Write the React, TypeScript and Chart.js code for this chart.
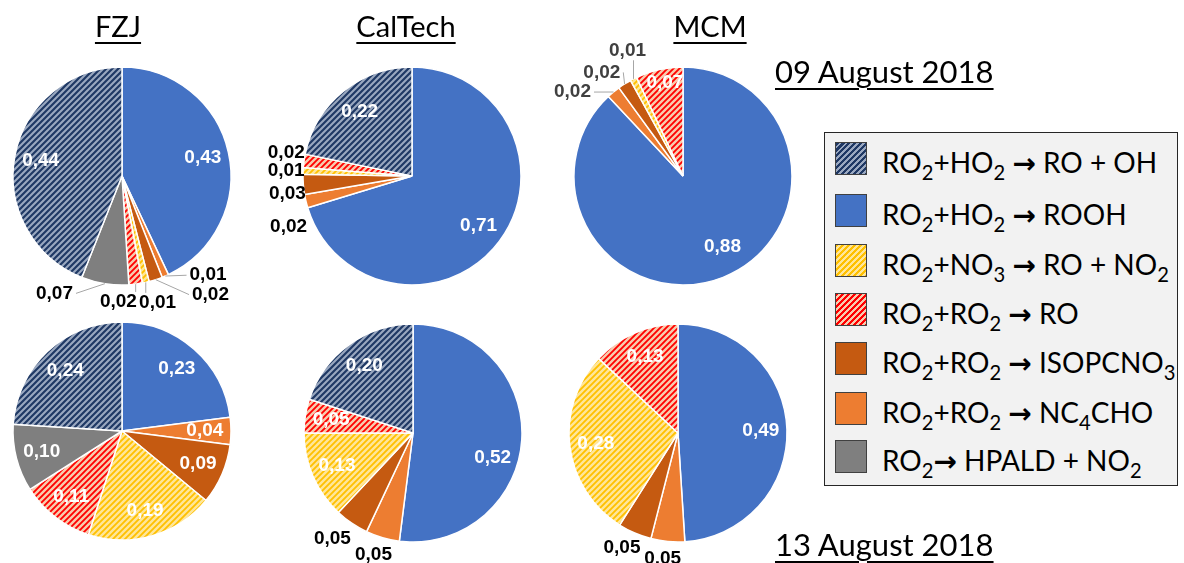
import React, { useEffect, useRef } from "react";
import { Chart, registerables } from "chart.js";

Chart.register(...registerables);

// ---- categories (pie order, clockwise from 12 o'clock) ----
const categories = [
  "RO_2+HO_2 → ROOH",
  "RO_2+RO_2 → NC_4CHO",
  "RO_2+RO_2 → ISOPCNO_3",
  "RO_2+NO_3 → RO + NO_2",
  "RO_2+RO_2 → RO",
  "RO_2→ HPALD + NO_2",
  "RO_2+HO_2 → RO + OH",
];
// legend order (indices into categories)
const legendOrder = [6, 0, 3, 4, 2, 1, 5];

// ---- series values ----
const fzjAug09 = [0.43, 0.01, 0.02, 0.01, 0.02, 0.07, 0.44];
const caltechAug09 = [0.71, 0.02, 0.03, 0.01, 0.02, 0, 0.22];
const mcmAug09 = [0.88, 0.02, 0.02, 0.01, 0.07, 0, 0];
const fzjAug13 = [0.23, 0.04, 0.09, 0.19, 0.11, 0.1, 0.24];
const caltechAug13 = [0.52, 0.05, 0.05, 0.13, 0.05, 0, 0.2];
const mcmAug13 = [0.49, 0.05, 0.05, 0.28, 0.13, 0, 0];

const modelTitles = ["FZJ", "CalTech", "MCM"];
const dateLabels = ["09 August 2018", "13 August 2018"];

type LabelSpec = { out?: boolean; dx?: number; dy?: number };
type PieSpec = {
  data: number[];
  cx: number;
  cy: number;
  labels: Record<number, LabelSpec>;
  leaders: boolean;
  outColor: string;
};

const RADIUS = 109;

const pies: PieSpec[] = [
  {
    data: fzjAug09, cx: 122, cy: 176, leaders: true, outColor: "#000",
    labels: {
      1: { out: true, dx: 34, dy: -21 },
      2: { out: true, dx: 48, dy: -6 },
      3: { out: true, dx: 7, dy: -1 },
      4: { out: true, dx: -20, dy: -4 },
      5: { out: true, dx: -47, dy: -12 },
    },
  },
  {
    data: caltechAug09, cx: 412, cy: 176, leaders: false, outColor: "#000",
    labels: {
      1: { out: true, dx: 4, dy: 20 },
      2: { out: true, dx: 6, dy: 8 },
      3: { out: true, dx: 5, dy: 1 },
      4: { out: true, dx: 4, dy: -5 },
    },
  },
  {
    data: mcmAug09, cx: 683, cy: 176, leaders: true, outColor: "#404040",
    labels: {
      0: { dx: 9, dy: -6 },
      1: { out: true, dx: -27, dy: 17 },
      2: { out: true, dx: -11, dy: 7 },
      3: { out: true, dx: 4, dy: -9 },
      4: { dx: 0, dy: -12 },
    },
  },
  { data: fzjAug13, cx: 122, cy: 431, leaders: false, outColor: "#000", labels: {} },
  {
    data: caltechAug13, cx: 413, cy: 433, leaders: false, outColor: "#000",
    labels: {
      0: { dx: -3, dy: 20 },
      1: { out: true, dx: -3, dy: -4 },
      2: { out: true, dx: -7, dy: -3 },
    },
  },
  {
    data: mcmAug13, cx: 678, cy: 433, leaders: false, outColor: "#000",
    labels: {
      1: { out: true, dx: -3, dy: -5 },
      2: { out: true, dx: -4, dy: -5 },
    },
  },
];

function makePattern(base: string, stripe: string, size = 6, lw = 2.4) {
  const c = document.createElement("canvas");
  c.width = size;
  c.height = size;
  const g = c.getContext("2d")!;
  g.fillStyle = base;
  g.fillRect(0, 0, size, size);
  g.strokeStyle = stripe;
  g.lineWidth = lw;
  g.beginPath();
  g.moveTo(-1, size + 1);
  g.lineTo(size + 1, -1);
  g.moveTo(-1, 1);
  g.lineTo(1, -1);
  g.moveTo(size - 1, size + 1);
  g.lineTo(size + 1, size - 1);
  g.stroke();
  return g.createPattern(c, "repeat")!;
}

function makeLabelPlugin(spec: PieSpec) {
  return {
    id: "sliceLabels",
    afterDatasetsDraw(chart: any) {
      const ctx: CanvasRenderingContext2D = chart.ctx;
      const meta = chart.getDatasetMeta(0);
      const values: number[] = chart.data.datasets[0].data;
      ctx.save();
      ctx.font = 'bold 19px "Liberation Sans", Arial, sans-serif';
      ctx.textAlign = "center";
      ctx.textBaseline = "middle";
      meta.data.forEach((arc: any, i: number) => {
        const v = values[i];
        if (!v) return;
        const p = arc.getProps(["x", "y", "startAngle", "endAngle", "outerRadius"], true);
        const mid = (p.startAngle + p.endAngle) / 2;
        const ls = spec.labels[i] || {};
        const text = v.toFixed(2).replace(".", ",");
        if (ls.out) {
          const d = p.outerRadius + 22;
          const lx = p.x + Math.cos(mid) * d + (ls.dx || 0);
          const ly = p.y + Math.sin(mid) * d + (ls.dy || 0);
          if (spec.leaders) {
            const px = p.x + Math.cos(mid) * p.outerRadius;
            const py = p.y + Math.sin(mid) * p.outerRadius;
            const w = ctx.measureText(text).width;
            let ex: number, ey: number;
            if (Math.abs(lx - px) > w / 2 + 4) {
              ex = lx > px ? lx - w / 2 - 3 : lx + w / 2 + 3;
              ey = ly;
            } else {
              ex = Math.max(lx - w / 2, Math.min(lx + w / 2, px));
              ey = ly > py ? ly - 10 : ly + 10;
            }
            ctx.strokeStyle = "#a6a6a6";
            ctx.lineWidth = 1;
            ctx.beginPath();
            ctx.moveTo(px, py);
            ctx.lineTo(ex, ey);
            ctx.stroke();
          }
          ctx.fillStyle = spec.outColor;
          ctx.fillText(text, lx, ly);
        } else {
          const d = p.outerRadius * 0.76;
          const lx = p.x + Math.cos(mid) * d + (ls.dx || 0);
          const ly = p.y + Math.sin(mid) * d + (ls.dy || 0);
          ctx.fillStyle = "#ffffff";
          ctx.fillText(text, lx, ly);
        }
      });
      ctx.restore();
    },
  };
}

const hatchBlueCss = "repeating-linear-gradient(135deg, #1f3864 0px, #1f3864 2.2px, #9aa8c0 2.2px, #9aa8c0 4.2px)";
const hatchYellowCss = "repeating-linear-gradient(135deg, #ffc000 0px, #ffc000 2px, #ffe699 2px, #ffe699 4.2px)";
const hatchRedCss = "repeating-linear-gradient(135deg, #ff0000 0px, #ff0000 2px, #f8cbad 2px, #f8cbad 4.2px)";
const legendSwatches = ["#4472c4", "#ed7d31", "#c55a11", hatchYellowCss, hatchRedCss, "#7f7f7f", hatchBlueCss];

function renderLabel(s: string) {
  const parts = s.split(/(_\w|→)/).filter((x) => x !== "");
  return parts.map((p, i) => {
    if (p.startsWith("_"))
      return (
        <span key={i} style={{ fontSize: "0.72em", position: "relative", top: "0.33em" }}>
          {p.slice(1)}
        </span>
      );
    if (p === "→")
      return (
        <span key={i} style={{ fontFamily: '"DejaVu Sans"', fontWeight: "bold", fontSize: "1em" }}>
          →
        </span>
      );
    return <span key={i}>{p}</span>;
  });
}

const titleStyle: React.CSSProperties = {
  position: "absolute",
  font: "29px Lato, sans-serif",
  lineHeight: "29px",
  color: "#000",
  textDecoration: "underline",
  textDecorationThickness: "2px",
  textUnderlineOffset: "5px",
  whiteSpace: "nowrap",
  transform: "translateX(-50%)",
};

const dateStyle: React.CSSProperties = {
  position: "absolute",
  font: "31px Lato, sans-serif",
  lineHeight: "31px",
  color: "#000",
  textDecoration: "underline",
  textDecorationThickness: "2px",
  textUnderlineOffset: "5px",
  whiteSpace: "nowrap",
};

export default function App() {
  const refs = useRef<(HTMLCanvasElement | null)[]>([]);

  useEffect(() => {
    const fills = [
      "#4472c4",
      "#ed7d31",
      "#c55a11",
      makePattern("#ffc000", "#ffe699"),
      makePattern("#ff0000", "#f8cbad"),
      "#7f7f7f",
      makePattern("#1f3864", "#9aa8c0", 6, 2.1),
    ];
    const charts = pies.map((spec, k) => {
      const canvas = refs.current[k]!;
      return new Chart(canvas, {
        type: "pie",
        data: {
          labels: categories,
          datasets: [
            {
              data: spec.data,
              backgroundColor: fills as any,
              borderColor: "#ffffff",
              borderWidth: 1.5,
              radius: RADIUS,
            } as any,
          ],
        },
        options: {
          responsive: false,
          animation: false,
          events: [],
          radius: RADIUS,
          layout: { padding: 0 },
          plugins: { legend: { display: false }, tooltip: { enabled: false } },
        } as any,
        plugins: [makeLabelPlugin(spec)],
      });
    });
    return () => charts.forEach((c) => c.destroy());
  }, []);

  const titleX = [118, 406, 710];
  const rowTops = [142, 194, 244, 293, 342, 392, 440];

  return (
    <div
      style={{
        position: "fixed",
        left: 0,
        top: 0,
        width: 1184,
        height: 563,
        overflow: "hidden",
        background: "#ffffff",
        fontFamily: "Lato, sans-serif",
      }}
    >
      {pies.map((p, k) => (
        <canvas
          key={k}
          ref={(el) => {
            refs.current[k] = el;
          }}
          width={300}
          height={300}
          style={{ position: "absolute", left: p.cx - 150, top: p.cy - 150, width: 300, height: 300 }}
        />
      ))}

      {modelTitles.map((t, i) => (
        <div key={t} style={{ ...titleStyle, left: titleX[i], top: 11 }}>
          {t}
        </div>
      ))}

      <div style={{ ...dateStyle, left: 775, top: 56 }}>{dateLabels[0]}</div>
      <div style={{ ...dateStyle, left: 775, top: 529 }}>{dateLabels[1]}</div>

      <div
        style={{
          position: "absolute",
          left: 824,
          top: 132,
          width: 354,
          height: 354,
          boxSizing: "border-box",
          background: "#f2f2f2",
          border: "1.5px solid #262626",
        }}
      />
      {legendOrder.map((ci, r) => (
        <React.Fragment key={ci}>
          <div
            style={{
              position: "absolute",
              left: 835,
              top: rowTops[r],
              width: 32,
              height: 33,
              boxSizing: "border-box",
              border: "1px solid #404040",
              background: legendSwatches[ci],
            }}
          />
          <div
            style={{
              position: "absolute",
              left: 882,
              top: rowTops[r] + 6,
              font: "28px Lato, sans-serif",
              lineHeight: "28px",
              color: "#000",
              whiteSpace: "nowrap",
            }}
          >
            {renderLabel(categories[ci])}
          </div>
        </React.Fragment>
      ))}
    </div>
  );
}
